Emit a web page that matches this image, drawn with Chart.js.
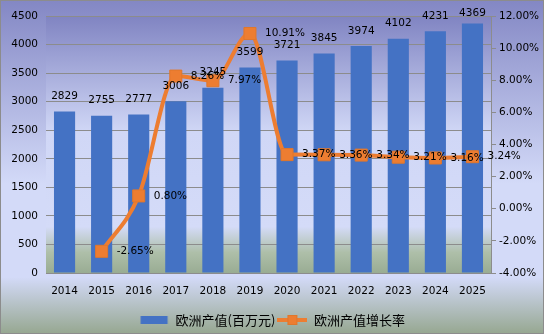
<!DOCTYPE html>
<html><head><meta charset="utf-8">
<script src="https://cdn.jsdelivr.net/npm/chart.js@4/dist/chart.umd.min.js"></script>
<style>html,body{margin:0;padding:0;background:#fff}#wrap{width:544px;height:334px;position:relative}canvas{display:block}</style>
</head><body><div id="wrap"><canvas id="c" width="544" height="334"></canvas></div>
<script>
const years = ['2014','2015','2016','2017','2018','2019','2020','2021','2022','2023','2024','2025'];
const outputValues = [2829,2755,2777,3006,3245,3599,3721,3845,3974,4102,4231,4369];
const growthRates = [null,-2.65,0.80,8.26,7.97,10.91,3.37,3.36,3.34,3.21,3.16,3.24];
const seriesNames = ['欧洲产值(百万元)','欧洲产值增长率'];
const leftAxis = {min:0, max:4500, step:500};
const rightAxis = {min:-4, max:12, step:2};

const BLUE = '#4472C4', ORANGE = '#ED7D31';
const numFont = {family:'"DejaVu Sans", Verdana, sans-serif', size:10.5};

function legendIcon(kind){
  const c = document.createElement('canvas');
  c.width = 30; c.height = 12;
  const x = c.getContext('2d');
  if(kind==='bar'){ x.fillStyle = BLUE; x.fillRect(1.5,2,27,8); }
  else {
    x.strokeStyle = ORANGE; x.lineWidth = 4; x.beginPath(); x.moveTo(0,6); x.lineTo(30,6); x.stroke();
    x.fillStyle = ORANGE; x.fillRect(10,1,10,10);
    x.strokeStyle = '#E0772C'; x.lineWidth = 1; x.strokeRect(10.5,1.5,9,9);
  }
  return c;
}

const bgPlugin = {
  id:'bg',
  beforeDraw(chart){
    const {ctx, width:w, height:h, chartArea:a} = chart;
    ctx.save();
    let g = ctx.createLinearGradient(0,0,0,h);
    g.addColorStop(0,'#8387c4'); g.addColorStop(0.55,'#d3daf8'); g.addColorStop(0.83,'#d3daf8'); g.addColorStop(1,'#96a790');
    ctx.fillStyle = g; ctx.fillRect(0,0,w,h);
    let g2 = ctx.createLinearGradient(0,a.top,0,a.bottom);
    g2.addColorStop(0,'#8084c2'); g2.addColorStop(0.45,'#d0d7f6'); g2.addColorStop(0.82,'#d4dbf8'); g2.addColorStop(0.92,'#aebfa9'); g2.addColorStop(1,'#99ac93');
    ctx.fillStyle = g2; ctx.fillRect(a.left,a.top,a.right-a.left,a.bottom-a.top);
    ctx.strokeStyle = '#8c8c8c'; ctx.lineWidth = 1; ctx.strokeRect(0.5,0.5,w-1,h-1);
    ctx.restore();
  },
  afterLayout(chart){
    if(chart.legend){ chart.legend.top += 2.5; chart.legend.bottom += 2.5; }
  }
};

const labelPlugin = {
  id:'labels',
  afterDatasetsDraw(chart){
    const {ctx, chartArea:a} = chart;
    ctx.save();
    ctx.font = numFont.size + 'px ' + numFont.family;
    ctx.fillStyle = '#000';
    ctx.textBaseline = 'middle';
    const bm = chart.getDatasetMeta(0);
    ctx.textAlign = 'center';
    bm.data.forEach((el,i)=>{
      const y = Math.max(el.y - 15, a.top - 2.5);
      ctx.fillText(String(outputValues[i]), el.x, y);
    });
    const lm = chart.getDatasetMeta(1);
    ctx.textAlign = 'left';
    lm.data.forEach((el,i)=>{
      if(growthRates[i]===null) return;
      ctx.fillText(growthRates[i].toFixed(2)+'%', el.x + 15, el.y);
    });
    ctx.restore();
  }
};

new Chart(document.getElementById('c'), {
  type:'bar',
  data:{
    labels: years,
    datasets:[
      {type:'bar', label:seriesNames[0], data:outputValues, backgroundColor:BLUE, yAxisID:'y', order:1,
       barPercentage:0.57, categoryPercentage:1.0},
      {type:'line', label:seriesNames[1], data:growthRates, yAxisID:'y1', order:0,
       borderColor:ORANGE, borderWidth:4, cubicInterpolationMode:'monotone', fill:false,
       pointStyle:'rect', pointRadius:8.5, pointHoverRadius:8.5, pointBackgroundColor:ORANGE, pointBorderColor:'#E0772C', pointBorderWidth:1}
    ]
  },
  options:{
    responsive:false, animation:false,
    layout:{padding:{top:16, left:0, right:0, bottom:0}},
    plugins:{
      tooltip:{enabled:false},
      legend:{display:true, position:'bottom',
        labels:{usePointStyle:true, pointStyleWidth:30, padding:2, color:'#000',
          font:{family:'"Noto Sans CJK SC", sans-serif', size:13},
          generateLabels(chart){
            return [
              {text:seriesNames[0], pointStyle:legendIcon('bar'), datasetIndex:0, fillStyle:BLUE, strokeStyle:BLUE, lineWidth:0, fontColor:'#000'},
              {text:seriesNames[1], pointStyle:legendIcon('line'), datasetIndex:1, fillStyle:ORANGE, strokeStyle:ORANGE, lineWidth:0, fontColor:'#000'}
            ];
          }}}
    },
    scales:{
      x:{grid:{display:false}, border:{display:true, color:'#8c8c8c', width:1},
         ticks:{color:'#000', font:numFont, padding:4, maxRotation:0, autoSkip:false},
         afterFit(s){ s.height = 36; }},
      y:{position:'left', min:leftAxis.min, max:leftAxis.max,
         ticks:{stepSize:leftAxis.step, color:'#000', font:numFont, padding:8, callback:(v)=>String(v)},
         grid:{color:'#8c8c8c', lineWidth:1, drawTicks:false}, border:{display:false},
         afterFit(s){ s.width = 46; }},
      y1:{position:'right', min:rightAxis.min, max:rightAxis.max,
         ticks:{stepSize:rightAxis.step, color:'#000', font:numFont, padding:3,
           callback:(v)=>v.toFixed(2)+'%'},
         grid:{drawOnChartArea:false, drawTicks:true, tickLength:5, color:'#8c8c8c'},
         border:{display:true, color:'#8c8c8c', width:1},
         afterFit(s){ s.width = 53; }}
    }
  },
  plugins:[bgPlugin, labelPlugin]
});
</script></body></html>
